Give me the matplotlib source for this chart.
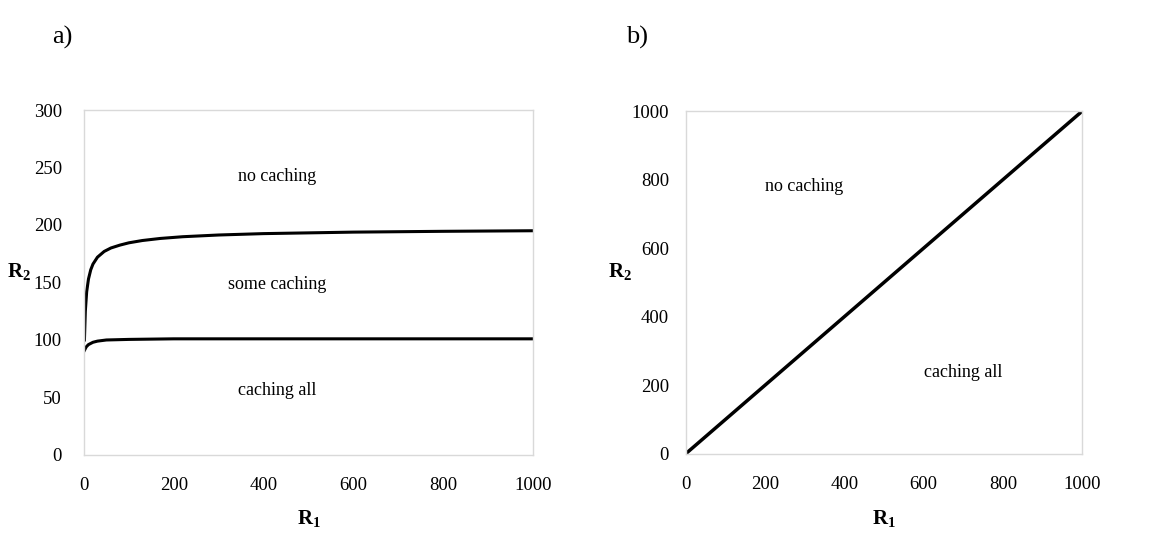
import numpy as np
import matplotlib.pyplot as plt

plt.rcParams['font.family'] = ['Liberation Serif', 'DejaVu Serif']
plt.rcParams['mathtext.fontset'] = 'custom'
plt.rcParams['mathtext.rm'] = 'Liberation Serif'
plt.rcParams['mathtext.bf'] = 'Liberation Serif:bold'

# a) boundaries
r1_upper = [1, 3, 6, 10, 15, 20, 30, 45, 60, 80, 100, 130, 170, 220, 300, 400, 600, 800, 1000]
r2_upper = [100, 125, 142, 153, 161, 166, 172, 177, 180, 182.5, 184.5, 186.5, 188.3, 189.8, 191.3, 192.5, 193.8, 194.5, 195]
r1_lower = [1, 5, 10, 20, 30, 50, 100, 200, 400, 1000]
r2_lower = [91, 94, 96, 98, 99, 100, 100.5, 101, 101, 101]

# b) boundary
r1_diag = [0, 1000]
r2_diag = [0, 1000]

labels_a = [("no caching", 430, 242), ("some caching", 430, 148), ("caching all", 430, 56)]
labels_b = [("no caching", 300, 780), ("caching all", 700, 236)]

fig = plt.figure(figsize=(11.6, 5.34), dpi=100)
ax1 = fig.add_axes([0.0724, 0.148, 0.387, 0.646])
ax2 = fig.add_axes([0.591, 0.150, 0.342, 0.642])

for ax in (ax1, ax2):
    for s in ax.spines.values():
        s.set_color('#d9d9d9')
        s.set_linewidth(1.0)
    ax.tick_params(length=0, labelsize=13.5)
    ax.tick_params(axis='x', pad=16)
    ax.set_xlim(0, 1000)
    ax.set_xticks([0, 200, 400, 600, 800, 1000])

ax1.tick_params(axis='y', pad=16)
ax2.tick_params(axis='y', pad=12)

ax1.plot(r1_upper, r2_upper, color='black', lw=2.2)
ax1.plot(r1_lower, r2_lower, color='black', lw=2.2)
ax1.set_ylim(0, 300)
ax1.set_yticks(range(0, 301, 50))
for txt, x, y in labels_a:
    ax1.text(x, y, txt, fontsize=13, ha='center', va='center')
ax1.set_xlabel(r'$\mathbf{R_1}$', fontsize=15)
ax1.xaxis.set_label_coords(0.5, -0.155)
ax1.set_ylabel(r'$\mathbf{R_2}$', fontsize=15, rotation=0)
ax1.yaxis.set_label_coords(-0.145, 0.5)

ax2.plot(r1_diag, r2_diag, color='black', lw=2.5)
ax2.set_ylim(0, 1000)
ax2.set_yticks(range(0, 1001, 200))
for txt, x, y in labels_b:
    ax2.text(x, y, txt, fontsize=13, ha='center', va='center')
ax2.set_xlabel(r'$\mathbf{R_1}$', fontsize=15)
ax2.xaxis.set_label_coords(0.5, -0.158)
ax2.set_ylabel(r'$\mathbf{R_2}$', fontsize=15, rotation=0)
ax2.yaxis.set_label_coords(-0.165, 0.5)

fig.text(0.045, 0.93, 'a)', fontsize=19, va='center')
fig.text(0.54, 0.93, 'b)', fontsize=19, va='center')

fig.savefig('out.png', dpi=100)
